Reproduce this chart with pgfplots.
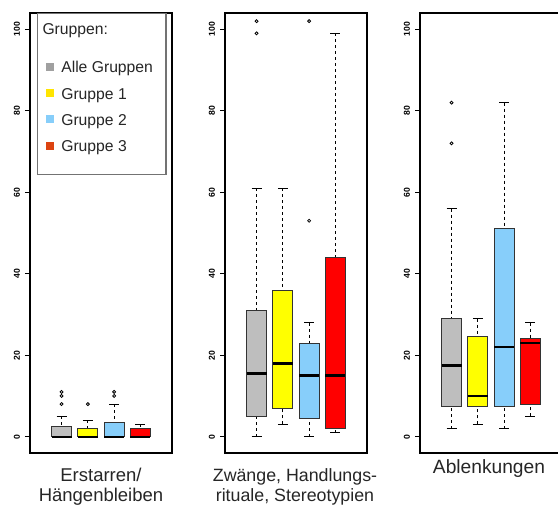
\documentclass[border=0pt]{standalone}
\usepackage{pgfplots}
\pgfplotsset{compat=1.18}
\usepgfplotslibrary{statistics}
\usepackage{fontspec}
\setmainfont{Liberation Sans}
\definecolor{cgray}{HTML}{BEBEBE}
\definecolor{cyellow}{HTML}{FFFF00}
\definecolor{cblue}{HTML}{87CEFA}
\definecolor{cred}{HTML}{FF0000}
\definecolor{lgray}{HTML}{A0A0A0}
\definecolor{lyellow}{HTML}{FFE500}
\definecolor{lblue}{HTML}{87CEFA}
\definecolor{lred}{HTML}{DD4411}
\pgfplotsset{
  panel/.style={
    scale only axis, width=71pt, height=220pt,
    xmin=-0.2, xmax=5.2, ymin=-4, ymax=104,
    xtick=\empty, ytick={0,20,40,60,80,100},
    ytick pos=left, tick align=outside,
    major tick length=2.5pt,
    every tick/.style={black, line width=0.5pt},
    axis line style={line width=0.9pt},
    /pgf/number format/assume math mode=true,
    yticklabel style={rotate=90, anchor=south, font=\fontsize{4.3}{5}\selectfont\bfseries, inner sep=2.3pt},
    anchor=south west,
    boxplot/draw direction=y,
    boxplot/box extend=0.76,
    boxplot/whisker extend=0.38,
    boxplot/every median/.style={black, solid, line width=1.2pt},
    boxplot/draw/lower whisker/.code={
      \draw[black, line width=0.5pt, dash pattern=on 1.5pt off 1.5pt]
        (boxplot box cs:\pgfplotsboxplotvalue{lower whisker},0.5) -- (boxplot box cs:\pgfplotsboxplotvalue{lower quartile},0.5);
      \draw[black, line width=0.5pt, solid]
        (boxplot whisker cs:\pgfplotsboxplotvalue{lower whisker},0) -- (boxplot whisker cs:\pgfplotsboxplotvalue{lower whisker},1);
    },
    boxplot/draw/upper whisker/.code={
      \draw[black, line width=0.5pt, dash pattern=on 1.5pt off 1.5pt]
        (boxplot box cs:\pgfplotsboxplotvalue{upper whisker},0.5) -- (boxplot box cs:\pgfplotsboxplotvalue{upper quartile},0.5);
      \draw[black, line width=0.5pt, solid]
        (boxplot whisker cs:\pgfplotsboxplotvalue{upper whisker},0) -- (boxplot whisker cs:\pgfplotsboxplotvalue{upper whisker},1);
    },
  },
  bx/.style={black, solid, line width=0.5pt, forget plot, mark=o, mark size=0.75pt,
    mark options={black, solid, line width=0.4pt},
    boxplot/every box/.style={draw=black!80, fill=#1, line width=0.5pt}},
}
\begin{document}
\begin{tikzpicture}
\useasboundingbox (0,0) rectangle (279pt,252.5pt);
% ---------- Panel 1
\begin{axis}[panel, at={(15pt,26pt)},
  legend style={at={(axis description cs:0.0458,1)}, anchor=north west,
    draw=black!55, line width=0.6pt, fill=white, text=black!85,
    font=\fontsize{7.85}{9.4}\selectfont, inner xsep=4.5pt, inner ysep=3pt,
    row sep=2.1pt, cells={anchor=base west}},
  legend image code/.code={\path[draw=none, #1] (0pt,0.9pt) rectangle (4pt,4.9pt); \path[draw=none, fill=none] (5.6pt,2pt) -- (5.6pt,2.1pt);},
]
\addplot[bx=cgray, boxplot prepared={draw position=1, lower whisker=0, lower quartile=0, median=0, upper quartile=2.5, upper whisker=5}]
  table[row sep=\\, y index=0]{d\\ 8\\ 10\\ 11\\};
\addplot[bx=cyellow, boxplot prepared={draw position=2, lower whisker=0, lower quartile=0, median=0, upper quartile=2, upper whisker=4}]
  table[row sep=\\, y index=0]{d\\ 8\\};
\addplot[bx=cblue, boxplot prepared={draw position=3, lower whisker=0, lower quartile=0, median=0, upper quartile=3.5, upper whisker=8}]
  table[row sep=\\, y index=0]{d\\ 10\\ 11\\};
\addplot[bx=cred, boxplot prepared={draw position=4, lower whisker=0, lower quartile=0, median=0, upper quartile=2, upper whisker=3}]
  coordinates {};
\addlegendimage{empty legend}
\addlegendentry{\hspace*{-9.4pt}Gruppen:}
\addlegendimage{fill=lgray}
\addlegendentry{\rule{0pt}{11.6pt}Alle Gruppen}
\addlegendimage{fill=lyellow}
\addlegendentry{Gruppe 1}
\addlegendimage{fill=lblue}
\addlegendentry{Gruppe 2}
\addlegendimage{fill=lred}
\addlegendentry{Gruppe 3}
\addlegendimage{empty legend}
\addlegendentry[inner sep=0pt]{\rule{0pt}{1.4pt}}
\end{axis}
% ---------- Panel 2
\begin{axis}[panel, at={(112.5pt,26pt)}]
\addplot[bx=cgray, boxplot prepared={draw position=1, lower whisker=0, lower quartile=5, median=15.5, upper quartile=31, upper whisker=61}]
  table[row sep=\\, y index=0]{d\\ 99\\ 102\\};
\addplot[bx=cyellow, boxplot prepared={draw position=2, lower whisker=3, lower quartile=7, median=18, upper quartile=36, upper whisker=61}]
  coordinates {};
\addplot[bx=cblue, boxplot prepared={draw position=3, lower whisker=0, lower quartile=4.5, median=15, upper quartile=23, upper whisker=28}]
  table[row sep=\\, y index=0]{d\\ 53\\ 102\\};
\addplot[bx=cred, boxplot prepared={draw position=4, lower whisker=1, lower quartile=2, median=15, upper quartile=44, upper whisker=99}]
  coordinates {};
\end{axis}
% ---------- Panel 3
\begin{axis}[panel, at={(210pt,26pt)}]
\addplot[bx=cgray, boxplot prepared={draw position=1, lower whisker=2, lower quartile=7.5, median=17.5, upper quartile=29, upper whisker=56}]
  table[row sep=\\, y index=0]{d\\ 72\\ 82\\};
\addplot[bx=cyellow, boxplot prepared={draw position=2, lower whisker=3, lower quartile=7.5, median=10, upper quartile=24.5, upper whisker=29}]
  coordinates {};
\addplot[bx=cblue, boxplot prepared={draw position=3, lower whisker=2, lower quartile=7.5, median=22, upper quartile=51, upper whisker=82}]
  coordinates {};
\addplot[bx=cred, boxplot prepared={draw position=4, lower whisker=5, lower quartile=8, median=23, upper quartile=24, upper whisker=28}]
  coordinates {};
\end{axis}
% ---------- category labels
\begin{scope}[every node/.style={text=black!85, inner sep=0pt}]
\node[anchor=base, font=\fontsize{9.25}{11}\selectfont] at (50.5pt,12pt) {Erstarren/};
\node[anchor=base, font=\fontsize{9.25}{11}\selectfont] at (50.5pt,1.75pt) {Hängenbleiben};
\node[anchor=base, font=\fontsize{8.9}{11}\selectfont] at (147.5pt,12pt) {Zwänge, Handlungs-};
\node[anchor=base, font=\fontsize{8.9}{11}\selectfont] at (147.5pt,1.75pt) {rituale, Stereotypien};
\node[anchor=base, font=\fontsize{9.6}{11}\selectfont] at (244.5pt,16pt) {Ablenkungen};
\end{scope}
\end{tikzpicture}
\end{document}
